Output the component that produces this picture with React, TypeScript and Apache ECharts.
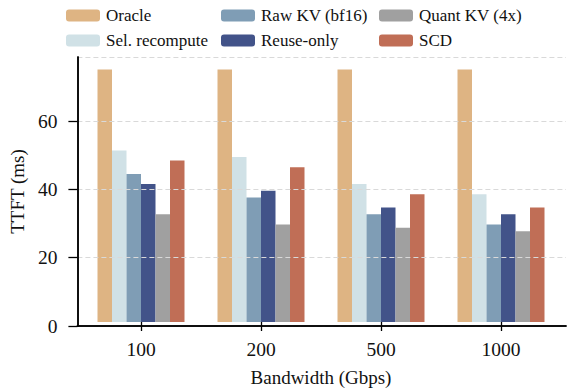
import React, { useEffect, useRef } from "react";
import * as echarts from "echarts";

const categories = ["100", "200", "500", "1000"];
const seriesNames = ["Oracle", "Sel. recompute", "Raw KV (bf16)", "Reuse-only", "Quant KV (4x)", "SCD"];
const oracle = [75, 75, 75, 75];
const selRecompute = [51, 49, 41, 38];
const rawKV = [44, 37, 32, 29];
const reuseOnly = [41, 39, 34, 32];
const quantKV = [32, 29, 28, 27];
const scd = [48, 46, 38, 34];
const colors = ["#DEB483", "#D0E1E6", "#7F9DB5", "#425389", "#A0A0A0", "#C06E56"];
const FONT = "'Liberation Serif', 'Times New Roman', Times, serif";
const Y_MAX = 78.75;

export default function App() {
  const ref = useRef<HTMLDivElement>(null);
  useEffect(() => {
    if (!ref.current) return;
    const chart = echarts.init(ref.current, undefined, { renderer: "svg" });
    const values = [oracle, selRecompute, rawKV, reuseOnly, quantKV, scd];
    const frameLine = { show: true, lineStyle: { color: "#000", width: 1.5 } };
    const legendCol = (names: string[], left: number) => ({
      data: names,
      left,
      top: 7,
      orient: "vertical",
      itemWidth: 34,
      itemHeight: 12,
      itemGap: 8,
      padding: 0,
      selectedMode: false,
      textStyle: { fontFamily: FONT, fontSize: 17, color: "#111", padding: [0, 0, 0, 1] },
    });
    chart.setOption({
      animation: false,
      textStyle: { fontFamily: FONT },
      legend: [
        legendCol(["Oracle", "Sel. recompute"], 66),
        legendCol(["Raw KV (bf16)", "Reuse-only"], 221),
        legendCol(["Quant KV (4x)", "SCD"], 379),
      ],
      grid: [
        { left: 81, top: 57, width: 480, height: 269, containLabel: false },
        { left: 77, top: 57, width: 489, height: 269, containLabel: false },
      ],
      xAxis: [
        {
          type: "category",
          gridIndex: 0,
          data: categories,
          name: "Bandwidth (Gbps)",
          nameLocation: "middle",
          nameGap: 46,
          nameTextStyle: { fontFamily: FONT, fontSize: 19, color: "#111" },
          axisLine: { show: false },
          axisTick: { show: true, alignWithLabel: true, length: 9, lineStyle: { color: "#000", width: 1.3 } },
          axisLabel: { fontFamily: FONT, fontSize: 19.5, color: "#111", margin: 17 },
          z: 10,
        },
        {
          type: "value", gridIndex: 1, position: "bottom", min: 0, max: 1,
          axisLine: frameLine, axisTick: { show: false }, axisLabel: { show: false }, splitLine: { show: false }, z: 10,
        },
        {
          type: "value", gridIndex: 1, position: "top", min: 0, max: 1,
          axisLine: frameLine, axisTick: { show: false }, axisLabel: { show: false }, splitLine: { show: false }, z: 10,
        },
      ],
      yAxis: [
        { type: "value", gridIndex: 0, show: false, min: 0, max: Y_MAX },
        {
          type: "value",
          gridIndex: 1,
          position: "left",
          min: 0,
          max: Y_MAX,
          interval: 20,
          name: "TTFT (ms)",
          nameLocation: "middle",
          nameGap: 50,
          nameTextStyle: { fontFamily: FONT, fontSize: 19, color: "#111" },
          axisLine: frameLine,
          axisTick: { show: true, length: 9, lineStyle: { color: "#000", width: 1.3 } },
          axisLabel: { fontFamily: FONT, fontSize: 19.5, color: "#111", margin: 20, showMaxLabel: false },
          splitLine: { show: true, lineStyle: { color: "#d9d9d9", type: [5, 3], width: 1 } },
          z: 10,
        },
        {
          type: "value", gridIndex: 1, position: "right", min: 0, max: Y_MAX,
          axisLine: frameLine, axisTick: { show: false }, axisLabel: { show: false }, splitLine: { show: false }, z: 10,
        },
      ],
      series: seriesNames.map((n, i) => ({
        name: n,
        type: "bar",
        xAxisIndex: 0,
        yAxisIndex: 0,
        data: values[i],
        barWidth: 14.5,
        barGap: "0%",
        itemStyle: { color: colors[i] },
      })),
    });
    return () => chart.dispose();
  }, []);
  return <div ref={ref} style={{ position: "absolute", left: 0, top: 0, width: 571, height: 392 }} />;
}
